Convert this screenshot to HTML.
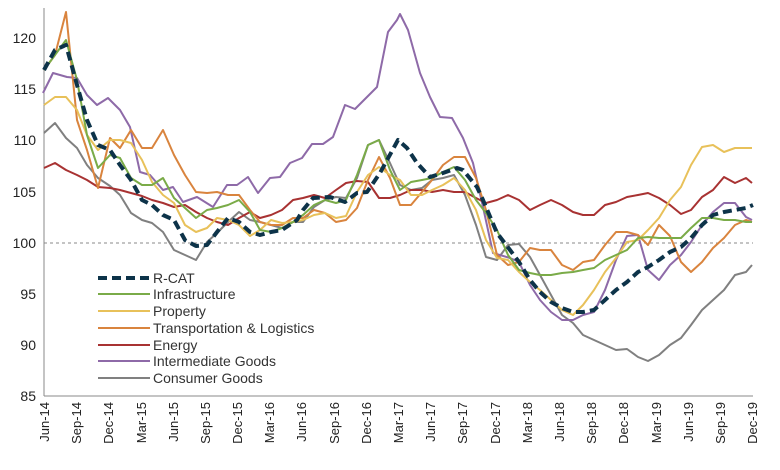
<!DOCTYPE html>
<html><head><meta charset="utf-8"><style>
body{margin:0;background:#fff;}
svg{display:block;font-family:"Liberation Sans",Arial,sans-serif;}
</style></head><body>
<svg width="780" height="470" viewBox="0 0 780 470">
<g fill="none" stroke-linejoin="round" stroke-width="2">
<line x1="44" y1="243" x2="753" y2="243" stroke="#888" stroke-width="1" stroke-dasharray="3,3"/>
<line x1="44" y1="8" x2="44" y2="396" stroke="#888" stroke-width="1"/>
<line x1="44" y1="396" x2="753" y2="396" stroke="#888" stroke-width="1"/>
<polyline stroke="#808080" points="44,133 55,123 66,138 77,148 87,165 98,178 110,186 120,195 131,213 142,220 152,223 163,232 174,250 185,255 196,260 207,242 217,233 228,222 239,212 250,220 260,222 271,225 282,228 293,222 303,222 314,207 325,200 336,197 346,198 357,178 368,145 379,140 390,163 400,185 411,190 422,188 432,180 443,178 454,175 465,195 476,225 486,257 497,260 508,245 519,244 530,257 540,275 551,295 562,315 573,323 583,335 594,340 605,345 616,350 627,349 638,357 648,361 659,355 670,345 681,338 691,325 702,310 713,300 724,290 735,275 746,272 752,265"/>
<polyline stroke="#8e6aa8" points="43,93 53,73 67,77 77,78 87,95 97,105 108,98 120,110 130,127 140,172 150,175 163,190 173,187 183,202 197,197 213,207 227,185 237,185 248,177 258,193 270,178 280,177 290,163 302,158 312,144 323,144 333,137 345,105 355,109 367,97 377,87 388,32 397,20 400,14 408,30 420,73 430,97 440,117 452,118 463,138 473,163 483,207 493,253 510,258 519,262 530,285 540,300 551,312 562,320 573,320 583,315 594,312 605,290 616,260 627,236 638,235 648,270 659,280 670,265 681,255 691,242 702,225 713,212 724,203 735,203 746,217 752,220"/>
<polyline stroke="#a83232" points="44,168 55,163 66,170 77,175 87,180 98,187 110,188 120,190 131,193 142,196 152,200 163,203 174,207 185,205 196,212 207,218 217,222 228,225 239,218 250,212 260,218 271,215 282,210 293,200 303,198 314,195 325,198 336,190 346,183 357,181 368,182 379,198 390,198 400,195 411,190 422,190 432,192 443,190 454,192 465,192 476,198 486,203 497,200 508,195 519,200 530,210 540,205 551,200 562,205 573,212 583,215 594,215 605,205 616,202 627,197 638,195 648,193 659,198 670,205 681,214 691,210 702,197 713,190 724,177 735,183 746,178 752,183"/>
<polyline stroke="#d9843e" points="44,70 55,55 66,12 77,120 87,150 98,188 110,138 120,148 131,130 142,148 152,148 163,130 174,155 185,175 196,192 207,193 217,192 228,195 239,195 250,210 260,222 271,225 282,225 293,218 303,218 314,210 325,213 336,222 346,220 357,208 368,180 379,157 390,178 400,205 411,205 422,192 432,180 443,165 454,157 465,157 476,178 486,210 497,255 508,265 519,262 530,248 540,250 551,250 562,265 573,270 583,262 594,260 605,245 616,232 627,232 638,235 648,245 659,225 670,236 681,262 691,272 702,262 713,248 724,238 735,225 746,220 752,222"/>
<polyline stroke="#e8c15a" points="44,105 55,97 66,97 77,110 87,135 98,150 110,140 120,140 131,143 142,160 152,182 163,195 174,203 185,225 196,232 207,228 217,218 228,220 239,225 250,236 260,230 271,220 282,223 293,222 303,220 314,215 325,213 336,218 346,216 357,192 368,175 379,167 390,175 400,180 411,195 422,195 432,190 443,185 454,178 465,190 476,210 486,240 497,258 508,260 519,272 530,282 540,290 551,300 562,310 573,315 583,305 594,290 605,272 616,258 627,242 638,240 648,230 659,218 670,200 681,187 691,165 702,147 713,145 724,152 735,148 746,148 752,148"/>
<polyline stroke="#7aab48" points="44,70 55,55 66,40 77,80 87,135 98,168 110,155 120,158 131,178 142,185 152,185 163,178 174,198 185,208 196,218 207,210 217,208 228,205 239,200 250,212 260,230 271,232 282,228 293,222 303,215 314,205 325,200 336,203 346,200 357,175 368,145 379,140 390,170 400,190 411,182 422,180 432,178 443,172 454,167 465,180 476,200 486,213 497,230 508,255 519,270 530,273 540,275 551,275 562,273 573,272 583,270 594,268 605,260 616,255 627,250 638,238 648,237 659,238 670,238 681,238 691,228 702,218 713,218 724,220 735,220 746,222 752,222"/>
<polyline stroke="#0d3349" stroke-width="4" stroke-dasharray="9,5" points="44,70 55,50 66,45 77,85 87,120 98,145 110,150 120,165 131,180 142,200 152,205 163,215 174,220 185,240 196,246 207,245 217,232 228,218 239,222 250,232 260,235 271,232 282,230 297,220 303,210 313,198 330,197 345,202 357,193 367,192 380,173 398,140 407,148 417,163 430,177 443,173 457,168 463,170 477,187 483,200 497,233 510,250 519,262 530,280 540,292 551,302 562,308 573,312 583,312 594,310 605,300 616,290 627,282 638,272 648,267 659,260 670,252 681,247 691,238 702,225 713,215 724,212 735,210 746,208 753,205"/>
</g>
<g font-size="14" fill="#222" text-anchor="end">
<text x="36" y="43">120</text><text x="36" y="94">115</text><text x="36" y="145">110</text><text x="36" y="197">105</text><text x="36" y="248">100</text><text x="36" y="299">95</text><text x="36" y="350">90</text><text x="36" y="401">85</text>
</g>
<g font-size="13" fill="#222" text-anchor="end">
<text transform="translate(49,402) rotate(-90)">Jun-14</text>
<text transform="translate(81,402) rotate(-90)">Sep-14</text>
<text transform="translate(113,402) rotate(-90)">Dec-14</text>
<text transform="translate(146,402) rotate(-90)">Mar-15</text>
<text transform="translate(178,402) rotate(-90)">Jun-15</text>
<text transform="translate(210,402) rotate(-90)">Sep-15</text>
<text transform="translate(242,402) rotate(-90)">Dec-15</text>
<text transform="translate(274,402) rotate(-90)">Mar-16</text>
<text transform="translate(306,402) rotate(-90)">Jun-16</text>
<text transform="translate(339,402) rotate(-90)">Sep-16</text>
<text transform="translate(371,402) rotate(-90)">Dec-16</text>
<text transform="translate(403,402) rotate(-90)">Mar-17</text>
<text transform="translate(435,402) rotate(-90)">Jun-17</text>
<text transform="translate(467,402) rotate(-90)">Sep-17</text>
<text transform="translate(500,402) rotate(-90)">Dec-17</text>
<text transform="translate(532,402) rotate(-90)">Mar-18</text>
<text transform="translate(564,402) rotate(-90)">Jun-18</text>
<text transform="translate(596,402) rotate(-90)">Sep-18</text>
<text transform="translate(628,402) rotate(-90)">Dec-18</text>
<text transform="translate(661,402) rotate(-90)">Mar-19</text>
<text transform="translate(693,402) rotate(-90)">Jun-19</text>
<text transform="translate(725,402) rotate(-90)">Sep-19</text>
<text transform="translate(757,402) rotate(-90)">Dec-19</text>
</g>
<g stroke-width="2" fill="none">
<line x1="98" y1="278" x2="150" y2="278" stroke="#0d3349" stroke-width="4" stroke-dasharray="9,5"/>
<line x1="98" y1="294" x2="150" y2="294" stroke="#7aab48"/>
<line x1="98" y1="311" x2="150" y2="311" stroke="#e8c15a"/>
<line x1="98" y1="328" x2="150" y2="328" stroke="#d9843e"/>
<line x1="98" y1="345" x2="150" y2="345" stroke="#a83232"/>
<line x1="98" y1="361" x2="150" y2="361" stroke="#8e6aa8"/>
<line x1="98" y1="378" x2="150" y2="378" stroke="#808080"/>
</g>
<g font-size="14" fill="#333">
<text x="153" y="283">R-CAT</text>
<text x="153" y="299">Infrastructure</text>
<text x="153" y="316">Property</text>
<text x="153" y="333">Transportation &amp; Logistics</text>
<text x="153" y="350">Energy</text>
<text x="153" y="366">Intermediate Goods</text>
<text x="153" y="383">Consumer Goods</text>
</g>
</svg>
</body></html>
